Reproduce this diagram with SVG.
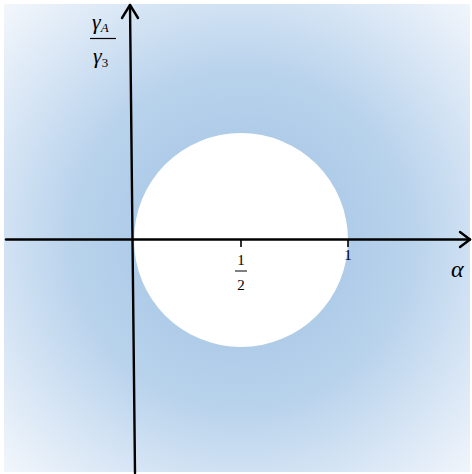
<svg xmlns="http://www.w3.org/2000/svg" width="472" height="474" viewBox="0 0 472 474">
<style>
.ax{stroke:#000;stroke-width:2.4;fill:none;stroke-linecap:round;stroke-linejoin:round}
.tk{stroke:#000;stroke-width:1.6}
text{font-family:'Liberation Serif','DejaVu Serif',serif;fill:#000}
</style>
<defs>
<radialGradient id="bg" gradientUnits="userSpaceOnUse" cx="241" cy="240" r="340">
<stop offset="0.3" stop-color="#aecbe8"/>
<stop offset="0.5" stop-color="#b9d3ec"/>
<stop offset="0.75" stop-color="#d8e6f5"/>
<stop offset="1" stop-color="#f5f8fc"/>
</radialGradient>
</defs>
<rect x="0" y="0" width="472" height="474" fill="#fff"/>
<rect x="4" y="4" width="466" height="468" fill="url(#bg)"/>
<g id="region"><circle cx="241" cy="240" r="107" fill="#fff"/></g>
<g id="connectors">
<path class="ax" d="M6 239.5 H470"/>
<path class="ax" d="M460 232 L470 239.5 L460 247"/>
<path class="ax" d="M135 473 L130 5"/>
<path class="ax" d="M122 18 L130 5 L138 18"/>
<line class="tk" x1="241" y1="240" x2="241" y2="247"/>
<line class="tk" x1="348" y1="240" x2="348" y2="247"/>
</g>
<g id="labels">
<text x="92" y="29" font-size="22" font-style="italic">γ<tspan font-size="13" dy="3">A</tspan></text>
<line x1="90" y1="38.5" x2="116" y2="38.5" stroke="#000" stroke-width="1.2"/>
<text x="93" y="63" font-size="22" font-style="italic">γ<tspan font-size="13" dy="4" font-style="normal">3</tspan></text>
<text x="241" y="265" font-size="15" text-anchor="middle">1</text>
<line x1="235" y1="271" x2="247" y2="271" stroke="#000" stroke-width="1"/>
<text x="241" y="290" font-size="15" text-anchor="middle">2</text>
<text x="348" y="260" font-size="15" text-anchor="middle">1</text>
<text x="451" y="277" font-size="24" font-style="italic">α</text>
</g>
</svg>
